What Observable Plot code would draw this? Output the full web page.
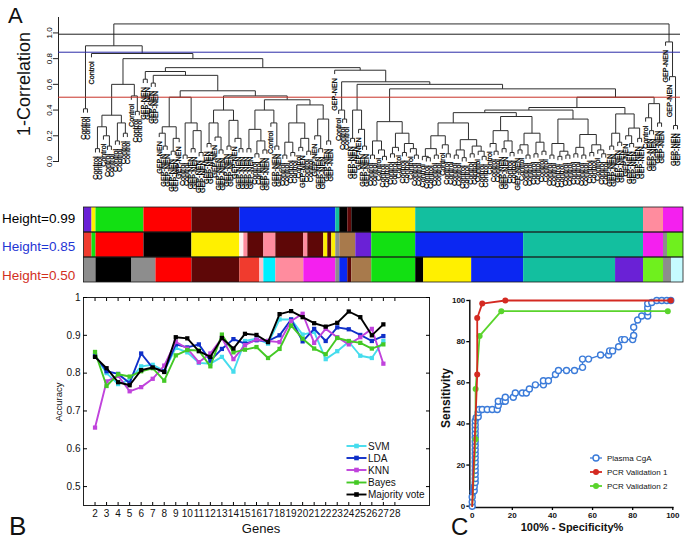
<!DOCTYPE html>
<html><head><meta charset="utf-8">
<script src="https://cdn.jsdelivr.net/npm/d3@7"></script>
<script src="https://cdn.jsdelivr.net/npm/@observablehq/plot@0.6"></script>
<style>
body{margin:0;background:#fff;font-family:"Liberation Sans",Arial,sans-serif;}
#root{position:relative;width:686px;height:541px;overflow:hidden;background:#fff;}
.abs{position:absolute;}
</style></head><body>
<div id="root">
  <div id="dendro" class="abs" style="left:0;top:0"></div>
  <div id="bars" class="abs" style="left:0;top:206px"></div>
  <div id="panelB" class="abs" style="left:0;top:280px"></div>
  <div id="panelC" class="abs" style="left:420px;top:280px"></div>
  <svg id="overlay" class="abs" style="left:0;top:0;pointer-events:none" width="686" height="541"></svg>
</div>
<script>
// ---------------- DATA ----------------
// Panel A: hierarchical clustering (C = Control, G = GEP-NEN), node heights = 1-correlation
const treeA   = "(C,C).41";
const treeD1  = "(((C,C).10,(C,(C,C).12).20).27,((C,C).16,(C,C).22).30).36";
const treeD2  = "(C,(C,C).39).51";
const treePair1 = "(G,G).64";
const treePair2 = "(G,G).61";
const treeE1d = "(((G,(G,G).12).22,((G,G).08,G).18).27,((C,C).05,((G,G).10,(G,G).07).24).30).50";
const treeE1f = "(((G,G).14,(G,(G,G).09).19).30,((G,G).12,(G,(G,G).10).18).32).40";
const treeE1h = "(((G,G).10,((C,C).06,(G,G).09).16).25,(C,(G,G).12).30).40";
const treeE1i = "((((C,C).05,(C,C).07).15,((C,G).11,(C,C).08).18).30,((G,(G,G).10).20,(G,G).16).33).44";
const treeF1  = "(C,(C,C).33).40";
const treeF3  = "((G,G).18,(G,(G,G).12).25).40";
const treeF5  = "(((C,C).05,(C,(C,C).04).09).16,(((C,C).06,C).11,((C,C).07,(C,(C,C).05).10).14).22).31";
const treeF7a = "((((C,(C,C).03).04,(C,C).05).10,(C,(C,C).06).13).20,(((C,C).05,(C,C).03).09,((C,C).06,(C,(C,C).04).08).12).17).30";
const treeF7b = "(((C,(C,C).08).14,((G,G).10,(C,C).07).16).24,(((G,C).09,(C,C).05).13,((C,C).06,(C,C).08).15).22).35";
const treeF7c = "(((C,C).05,((C,C).04,(C,C).05).08).14,(((C,C).06,(C,C).05).11,((C,C).07,(C,(C,C).06).09).13).21).33";
const treeF7d = "(((G,G).12,(G,G).15).22,((G,(G,G).14).20,(G,G).18).26).37";
const treeF8  = "((C,(G,G).24).34,(G,G).30).45";
const treeR   = "(G,(G,(G,G).28).66).93";

const treeE1 = `(${treePair1},(${treePair2},(${treeE1d},(${treeE1f},(${treeE1h},${treeE1i}).48).51).55).67).70`;
const treeF7 = `(((${treeF7a},${treeF7b}).38,${treeF7c}).40,${treeF7d}).42`;
const treeE2 = `(G,(${treeF1},(${treeF3},(${treeF5},(${treeF7},${treeF8}).50).565).60).62).71`;
const treeL  = `(${treeA},(C,((${treeD1},${treeD2}).60,(${treeE1},${treeE2}).73).80).84).90`;
const treeRoot = `(${treeL},${treeR})1.07`;

const yTicksA = [0, 0.2, 0.4, 0.6, 0.8, 1.0];
const cutHeights = [0.99, 0.85, 0.50];
const cutColors = ["#1e1e1e", "#2b2ba8", "#c83228"];

// Cluster colour bars (cluster colour, number of samples)
const barRowLabels = ["Height=0.99", "Height=0.85", "Height=0.50"];
const barRow1Clusters = ["purple","yellow","green","red","darkred","blue","teal","black","darkred","black","yellow","teal","pink","magenta"];
const barRow1Sizes    = [2,1,12,12,12,24,1,2,1,5,11,57,5,5];
const barRow2Clusters = ["redorange","green","red","black","yellow","white","pink","darkred","pink","darkred","pink","darkred","yellow","darkred","yellow","gray","brown","purple","green","blue","teal","magenta","gray","lime"];
const barRow2Sizes    = [2,1,12,12,12,1,1,4,3,7,1,4,1,1,1,1,4,4,11,27,30,5,1,4];
const barRow3Clusters = ["gray","black","gray","red","darkred","redorange","lightpink","cyan","pink","magenta","gray","blue","darkred","brown","green","black","yellow","blue","teal","purple","lime","gray","lightcyan"];
const barRow3Sizes    = [3,9,6,9,12,5,1,3,7,8,1,2,1,5,11,2,12,13,23,7,5,2,3];

// Panel B: accuracy vs number of genes
const genes = [2,3,4,5,6,7,8,9,10,11,12,13,14,15,16,17,18,19,20,21,22,23,24,25,26,27];
const geneTicks = [2,3,4,5,6,7,8,9,10,11,12,13,14,15,16,17,18,19,20,21,22,23,24,25,26,27,28];
const accTicks = [0.5,0.6,0.7,0.8,0.9,1];
const accSVM   = [0.846,0.800,0.771,0.782,0.818,0.822,0.806,0.867,0.855,0.827,0.825,0.843,0.804,0.885,0.891,0.878,0.942,0.942,0.902,0.909,0.837,0.858,0.883,0.846,0.840,0.885];
const accLDA   = [0.846,0.805,0.798,0.774,0.852,0.814,0.805,0.876,0.868,0.876,0.833,0.864,0.890,0.878,0.887,0.885,0.900,0.942,0.884,0.917,0.885,0.921,0.916,0.901,0.885,0.898];
const accKNN   = [0.656,0.778,0.793,0.752,0.763,0.785,0.820,0.883,0.865,0.829,0.852,0.893,0.837,0.874,0.889,0.885,0.882,0.938,0.957,0.880,0.917,0.895,0.876,0.895,0.917,0.825];
const accBayes = [0.856,0.766,0.797,0.791,0.805,0.813,0.780,0.847,0.861,0.860,0.818,0.902,0.855,0.862,0.869,0.840,0.864,0.926,0.891,0.865,0.850,0.893,0.885,0.880,0.865,0.876];
const accVote  = [0.843,0.813,0.776,0.768,0.808,0.815,0.803,0.895,0.892,0.858,0.843,0.893,0.865,0.904,0.901,0.882,0.956,0.964,0.948,0.932,0.923,0.933,0.963,0.948,0.900,0.929];
const seriesNames = ["SVM","LDA","KNN","Bayes","Majority vote"];

// Panel C: ROC curves [100% - specificity, sensitivity]
const rocTicks = [0,20,40,60,80,100];
const rocCgA = [[0,0],[0,2],[0,4.5],[0.5,7],[1,7.5],[1,9.5],[1.5,11.5],[1.5,13.5],[1.5,15.5],[1.5,17.5],[1.5,19.5],[1.5,21.5],[1.5,23.5],[1.5,25.5],[1.5,27.5],[1.5,29.5],[1.5,31.5],[1.5,33.5],[1.5,35.5],[1.5,37.5],[1.5,39.5],[1.5,41.5],[2,43],[3,43.5],[3,45.5],[3.5,47],[5,47],[7.5,47],[10,47],[12.5,47],[13,49],[13,51],[15.5,51],[16.5,51],[16.5,53],[20.5,53],[21.5,55],[25,55],[27,55],[28.5,57],[31.5,59],[35.5,59],[35.5,61],[38,61],[41.5,64],[43,66],[47,66],[51,66],[55,67.5],[55,71.5],[58,71.5],[64,73.5],[68,73.5],[68.5,75.5],[70,75.5],[73,77.5],[74.5,81],[76,81],[80,81],[80.5,83],[80.5,87],[82.5,90.5],[84.5,92.5],[87.5,92.5],[87.5,94.5],[87.5,96.5],[87.5,98.5],[89.5,99],[92,100],[94.5,100],[97,100],[99,100]];
const rocPCR1 = [[0,0],[2.5,64],[2.5,91.5],[5,98.5],[16.5,100],[99,100]];
const rocPCR2 = [[0,0],[1.7,32.5],[1.7,57],[3.7,82.8],[14.5,94.8],[97.5,94.8]];
const rocNames = ["Plasma CgA","PCR Validation 1","PCR Validation 2"];

// ---------------- STYLES ----------------
const palette = {purple:"#6a21d6", yellow:"#fff000", green:"#12e012", red:"#ff0000", darkred:"#5e0707", blue:"#0b27f2",
  teal:"#13bf9f", black:"#000000", pink:"#ff8c9e", magenta:"#f420ef", redorange:"#f03b2e", white:"#fdf2f2",
  gray:"#8d8d8d", brown:"#a87a4c", lime:"#6ff01e", cyan:"#00f0ff", lightpink:"#ffc4cc", lightcyan:"#c6fbff"};
const seriesColors = ["#45dced","#0f2fc8","#c043dc","#44c925","#000000"];
const rocColors = ["#3b7bd9","#d42a22","#5ad42c"];
const font = "'Liberation Sans', Arial, sans-serif";
const style = {fontFamily: font, background: "transparent", overflow: "visible"};

// ---------------- PANEL A: dendrogram ----------------
function parseTree(s) {
  let i = 0;
  function node() {
    if (s[i] === "(") {
      i++;
      const kids = [node()];
      while (s[i] === ",") { i++; kids.push(node()); }
      i++;
      const j = i;
      while (i < s.length && /[0-9.]/.test(s[i])) i++;
      return {children: kids, h: +s.slice(j, i)};
    }
    const c = s[i++];
    return {leaf: c === "C" ? "Control" : "GEP-NEN"};
  }
  return node();
}
const tree = parseTree(treeRoot);
let leafCounter = 0;
(function place(n) {
  if (n.leaf) { n.x = leafCounter++; return; }
  n.children.forEach(place);
  n.x = (n.children[0].x + n.children[n.children.length - 1].x) / 2;
})(tree);
const hang = 0.03;
const segs = [], leaves = [];
(function collect(n) {
  if (n.leaf) return;
  const a = n.children[0], b = n.children[n.children.length - 1];
  segs.push({x1: a.x, y1: n.h, x2: b.x, y2: n.h});
  for (const c of n.children) {
    const ch = c.leaf ? n.h - hang : c.h;
    segs.push({x1: c.x, y1: n.h, x2: c.x, y2: ch});
    if (c.leaf) leaves.push({x: c.x, y: ch, label: c.leaf});
    else collect(c);
  }
})(tree);

const dendro = Plot.plot({
  width: 686, height: 200, marginLeft: 58, marginRight: 6, marginTop: 17, marginBottom: 39,
  style,
  x: {domain: [-6.27, leafCounter - 0.25], axis: null},
  y: {domain: [0, 1.12]},
  marks: [
    Plot.frame({anchor: "left", stroke: "#222"}),
    Plot.axisY({ticks: yTicksA, tickFormat: d => d.toFixed(1), tickRotate: -90, tickSize: 5, tickPadding: 2, fontSize: 8, label: null, stroke: "#222"}),
    Plot.link(segs, {x1: "x1", y1: "y1", x2: "x2", y2: "y2", stroke: "#2e2e2e", strokeWidth: 1}),
    ...cutHeights.map((h, i) => Plot.ruleY([h], {stroke: cutColors[i], strokeWidth: 1})),
    Plot.text(leaves, {x: "x", y: "y", text: "label", rotate: -90, textAnchor: "end", dy: 4, fontSize: 7.2, fill: "#000", stroke: "#000", strokeWidth: 0.25})
  ]
});
document.getElementById("dendro").appendChild(dendro);

// ---------------- colour bars ----------------
const barRows = [[barRow1Clusters, barRow1Sizes], [barRow2Clusters, barRow2Sizes], [barRow3Clusters, barRow3Sizes]];
const barCells = [], rowTotals = [];
barRows.forEach(([cl, sz], r) => {
  let s = 0;
  cl.forEach((c, k) => { barCells.push({row: barRowLabels[r], x1: s, x2: s + sz[k], fill: palette[c]}); s += sz[k]; });
  rowTotals.push({row: barRowLabels[r], total: s});
});
const bars = Plot.plot({
  width: 686, height: 77, marginLeft: 83.5, marginRight: 3, marginTop: 0, marginBottom: 0,
  style,
  x: {domain: [0, 150], axis: null},
  y: {domain: barRowLabels, axis: null, padding: 0},
  color: {type: "identity"},
  marks: [
    Plot.barX(barCells, {x1: "x1", x2: "x2", y: "row", fill: "fill", inset: 0}),
    Plot.barX(rowTotals, {x1: () => 0, x2: "total", y: "row", fill: "none", stroke: "#1a1a1a", strokeWidth: 0.8, inset: 0})
  ]
});
document.getElementById("bars").appendChild(bars);

// ---------------- PANEL B ----------------
const accSeries = [accSVM, accLDA, accKNN, accBayes, accVote];
const panelB = Plot.plot({
  width: 431, height: 261, marginLeft: 83, marginRight: 2, marginTop: 17, marginBottom: 36,
  style,
  x: {domain: [1, 31]},
  y: {domain: [0.45, 1]},
  marks: [
    Plot.frame({stroke: "#222", strokeWidth: 1}),
    Plot.axisX({anchor: "bottom", ticks: geneTicks, tickSize: 0, tickPadding: 4, fontSize: 10, label: null, fill: "#111"}),
    Plot.axisX({anchor: "bottom", ticks: geneTicks, tickSize: 3, insetBottom: 3, fill: "none", label: null}),
    Plot.axisX({anchor: "top", ticks: geneTicks, tickSize: 3, insetTop: 3, fill: "none", label: null}),
    Plot.axisY({anchor: "left", ticks: accTicks, tickSize: 0, tickPadding: 3, fontSize: 10, tickFormat: d => d === 1 ? "1" : d.toFixed(1), label: null, fill: "#111"}),
    Plot.axisY({anchor: "left", ticks: accTicks, tickSize: 4, insetLeft: 4, fill: "none", label: null}),
    Plot.axisY({anchor: "right", ticks: accTicks, tickSize: 4, insetRight: 4, fill: "none", label: null}),
    ...accSeries.flatMap((vals, s) => [
      Plot.line(genes, {x: d => d, y: (d, i) => vals[i], stroke: seriesColors[s], strokeWidth: 1.9}),
      Plot.dot(genes, {x: d => d, y: (d, i) => vals[i], symbol: "square", r: 2.4, fill: seriesColors[s], stroke: "none"})
    ])
  ]
});
document.getElementById("panelB").appendChild(panelB);

// ---------------- PANEL C ----------------
const panelC = Plot.plot({
  width: 266, height: 261, marginLeft: 51.7, marginRight: 13.7, marginTop: 20, marginBottom: 35.3,
  style,
  x: {domain: [0, 100]},
  y: {domain: [0, 100]},
  marks: [
    Plot.frame({anchor: "left", insetLeft: -2.4, stroke: "#111", strokeWidth: 1.5}),
    Plot.frame({anchor: "bottom", insetBottom: -1.3, stroke: "#111", strokeWidth: 1.5}),
    Plot.axisY({ticks: rocTicks, tickSize: 3, tickPadding: 1.5, dx: -2.4, fontSize: 8, fontWeight: "bold", label: null, strokeWidth: 1.3, fill: "#111"}),
    Plot.axisX({ticks: rocTicks, tickSize: 3, tickPadding: 1.5, dy: 1.3, fontSize: 8, fontWeight: "bold", label: null, strokeWidth: 1.3, fill: "#111"}),
    Plot.line(rocCgA, {x: d => d[0], y: d => d[1], stroke: rocColors[0], strokeWidth: 1.3}),
    Plot.dot(rocCgA, {x: d => d[0], y: d => d[1], r: 3, stroke: rocColors[0], strokeWidth: 1.4, fill: "white"}),
    Plot.line(rocPCR2, {x: d => d[0], y: d => d[1], stroke: rocColors[2], strokeWidth: 1.8}),
    Plot.dot(rocPCR2.slice(1), {x: d => d[0], y: d => d[1], r: 3, fill: rocColors[2]}),
    Plot.line(rocPCR1, {x: d => d[0], y: d => d[1], stroke: rocColors[1], strokeWidth: 1.8}),
    Plot.dot(rocPCR1.slice(1), {x: d => d[0], y: d => d[1], r: 3, fill: rocColors[1]})
  ]
});
document.getElementById("panelC").appendChild(panelC);

// ---------------- overlay texts & legends ----------------
const ov = d3.select("#overlay").style("font-family", font);
function txt(x, y, s, opt = {}) {
  const t = ov.append("text").attr("x", x).attr("y", y).text(s)
    .attr("font-size", opt.size || 10).attr("fill", opt.fill || "#111")
    .attr("text-anchor", opt.anchor || "start").attr("font-weight", opt.weight || "normal");
  if (opt.rotate) t.attr("x", 0).attr("y", 0).attr("transform", `translate(${x},${y}) rotate(${opt.rotate})`);
  return t;
}
txt(8, 23, "A", {size: 22});
txt(30, 84, "1-Correlation", {size: 18, rotate: -90, anchor: "middle"});
const rowLabelColors = ["#000000", "#1f36d4", "#d2301e"];
[223, 251, 280].forEach((y, i) => txt(2, y, barRowLabels[i], {size: 13.5, fill: rowLabelColors[i]}));
txt(62, 402, "Accuracy", {size: 9.5, rotate: -90, anchor: "middle"});
txt(261, 533, "Genes", {size: 13, anchor: "middle"});
txt(9, 535, "B", {size: 26});
txt(451, 535, "C", {size: 24});
txt(450, 398, "Sensitivity", {size: 12, rotate: -90, anchor: "middle", weight: "bold"});
txt(572, 531, "100% - Specificity%", {size: 11, anchor: "middle", weight: "bold"});

// legend B
[446, 458, 470, 482.5, 494.5].forEach((y, i) => {
  ov.append("line").attr("x1", 346.5).attr("x2", 366.5).attr("y1", y).attr("y2", y).attr("stroke", seriesColors[i]).attr("stroke-width", 1.9);
  ov.append("rect").attr("x", 354.2).attr("y", y - 2.3).attr("width", 4.6).attr("height", 4.6).attr("fill", seriesColors[i]);
  txt(368, y + 3.6, seriesNames[i], {size: 10});
});
// legend C
[458, 472, 486].forEach((y, i) => {
  ov.append("line").attr("x1", 590).attr("x2", 602).attr("y1", y).attr("y2", y).attr("stroke", rocColors[i]).attr("stroke-width", i === 0 ? 1.3 : 1.8);
  ov.append("circle").attr("cx", 596).attr("cy", y).attr("r", 3)
    .attr("fill", i === 0 ? "white" : rocColors[i]).attr("stroke", i === 0 ? rocColors[0] : "none").attr("stroke-width", 1.4);
  txt(607, y + 3, rocNames[i], {size: 8});
});
</script>
</body></html>
